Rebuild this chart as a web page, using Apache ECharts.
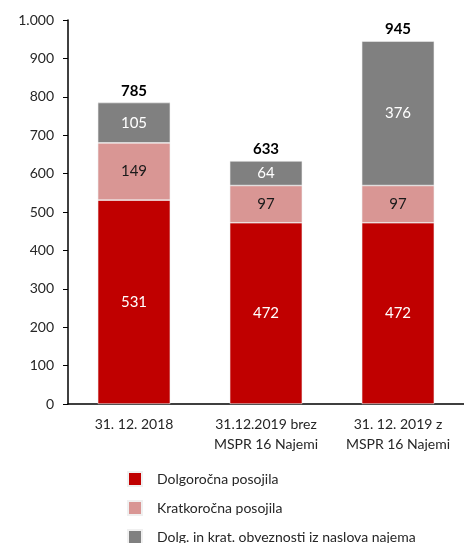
<!DOCTYPE html>
<html>
<head>
<meta charset="utf-8">
<script src="https://cdn.jsdelivr.net/npm/echarts@6/dist/echarts.min.js"></script>
<style>
    html, body {margin: 0; padding: 0; background: #fff;}
    #main {width: 464px; height: 543px;}
</style>
</head>
<body>
<div id="main"></div>
<script>
    var categories = ['31. 12. 2018', '31.12.2019 brez\nMSPR 16 Najemi', '31. 12. 2019 z\nMSPR 16 Najemi'];
    var dolgorocna = [531, 472, 472];
    var kratkorocna = [149, 97, 97];
    var najem = [105, 64, 376];
    var skupaj = [785, 633, 945];

    var font = 'Lato, "Open Sans", sans-serif';
    var chart = echarts.init(document.getElementById('main'));

    function segment(name, data, color, labelColor) {
        return {
            name: name, type: 'bar', stack: 'total', data: data,
            barWidth: '55%',
            itemStyle: {color: color, borderColor: '#f0f0f0', borderWidth: 0.6},
            label: {show: true, position: 'inside', color: labelColor, fontFamily: font, fontSize: 15}
        };
    }

    chart.setOption({
        animation: false,
        textStyle: {fontFamily: font},
        grid: {left: 68, right: -10, top: 20, bottom: 139, containLabel: false},
        legend: {
            orient: 'vertical', left: 127, top: 471, height: 100, padding: 0,
            itemWidth: 14, itemHeight: 14, itemGap: 13,
            icon: 'rect',
            data: ['Dolgoročna posojila', 'Kratkoročna posojila', 'Dolg. in krat. obveznosti iz naslova najema'],
            textStyle: {fontFamily: font, fontSize: 14, color: '#262626', padding: [0, 0, 0, 10]}
        },
        xAxis: {
            type: 'category', data: categories,
            axisLine: {lineStyle: {color: '#000', width: 1.5}},
            axisTick: {show: false},
            axisLabel: {color: '#262626', fontFamily: font, fontSize: 14, lineHeight: 20, margin: 10, interval: 0}
        },
        yAxis: {
            type: 'value', min: 0, max: 1000, interval: 100,
            splitLine: {show: false},
            axisLine: {show: true, lineStyle: {color: '#000', width: 1.5}},
            axisTick: {show: true, length: 5, lineStyle: {color: '#000'}},
            axisLabel: {
                color: '#262626', fontFamily: font, fontSize: 14, margin: 14,
                formatter: function (v) {
                    return v >= 1000 ? Math.floor(v / 1000) + '.' + String(v % 1000).padStart(3, '0') : v;
                }
            }
        },
        series: [
            segment('Dolgoročna posojila', dolgorocna, '#c00000', '#ffffff'),
            segment('Kratkoročna posojila', kratkorocna, '#d99694', '#1a1a1a'),
            segment('Dolg. in krat. obveznosti iz naslova najema', najem, '#808080', '#ffffff'),
            {
                name: 'Skupaj', type: 'bar', stack: 'total', barWidth: '55%',
                data: skupaj.map(function () { return 0; }),
                itemStyle: {color: 'transparent'},
                label: {
                    show: true, position: 'top', distance: 4,
                    color: '#000', fontWeight: 'bold', fontFamily: font, fontSize: 15,
                    formatter: function (p) { return skupaj[p.dataIndex]; }
                }
            }
        ]
    });
</script>
</body>
</html>
